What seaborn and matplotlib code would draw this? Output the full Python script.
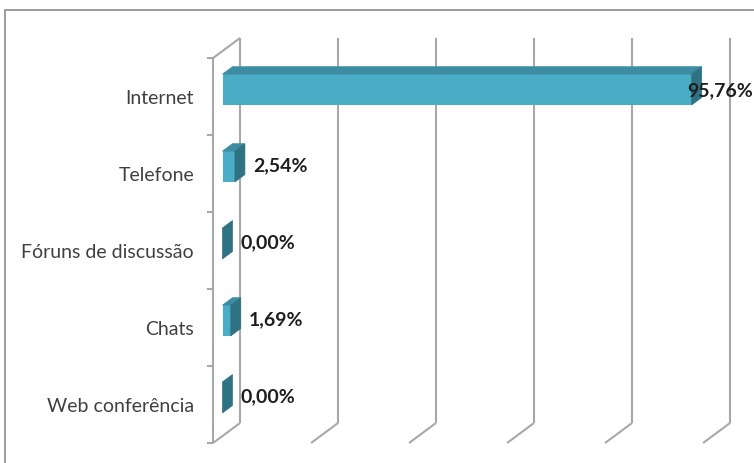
import numpy as np
import pandas as pd
import matplotlib
matplotlib.use("Agg")
import matplotlib.pyplot as plt
import seaborn as sns
from matplotlib.patches import Polygon, Rectangle

categories = ["Internet", "Telefone", "Fóruns de discussão", "Chats", "Web conferência"]
percentages = [95.76, 2.54, 0.00, 1.69, 0.00]
value_labels = ["95,76%", "2,54%", "0,00%", "1,69%", "0,00%"]
x_ticks = [0, 20, 40, 60, 80, 100]

df = pd.DataFrame({"canal": categories, "pct": percentages})

sns.set_theme(style="white")
plt.rcParams["font.family"] = ["Lato", "DejaVu Sans"]

W, H = 754, 463
fig = plt.figure(figsize=(W / 100, H / 100), dpi=100)
fig.patch.set_facecolor("white")

# Axes = plane of the bar front faces (pixel box)
AX_L, AX_R, AX_T, AX_B = 222.5, 712.5, 51, 436
ax = fig.add_axes([AX_L / W, 1 - AX_B / H, (AX_R - AX_L) / W, (AX_B - AX_T) / H])
ax.set_facecolor("none")

FRONT = "#4BACC6"
TOP = "#3D8CA2"
SIDE = "#2F7284"
GRID = "#A8A8A8"

sns.barplot(data=df, x="pct", y="canal", orient="h", width=0.4,
            color=FRONT, saturation=1, linewidth=0, ax=ax, zorder=3)
ax.set_xlim(0, 100)
ax.set_ylim(4.5, -0.5)

# Pseudo-3D geometry (data units): full wall depth and bar slab position in it
WALL_DX, WALL_DY = 5.5, 0.26
BAR_FRONT, BAR_BACK = 0.35, 0.72
fx, fy = -BAR_FRONT * WALL_DX, BAR_FRONT * WALL_DY
bx, by = (1 - BAR_FRONT) * WALL_DX, -(1 - BAR_FRONT) * WALL_DY
n = len(categories)
y_top, y_bot = -0.5, n - 0.5

line_kw = dict(color=GRID, lw=1.5, clip_on=False, zorder=1, solid_capstyle="butt")
# back wall gridlines + floor edges
for t in x_ticks:
    ax.plot([t + bx, t + bx], [y_top + by, y_bot + by], **line_kw)
    ax.plot([t + bx, t + fx], [y_bot + by, y_bot + fy], **line_kw)
# left wall: front edge, top edge, category tick marks
ax.plot([fx, fx], [y_top + fy, y_bot + fy], **line_kw)
ax.plot([fx, bx], [y_top + fy, y_top + by], **line_kw)
for k in range(n + 1):
    yy = k - 0.5 + fy
    ax.plot([fx - 1.2, fx], [yy, yy], **line_kw)

# top and side faces of each bar
ddx = (BAR_BACK - BAR_FRONT) * WALL_DX
ddy = -(BAR_BACK - BAR_FRONT) * WALL_DY
for p in list(ax.patches):
    x0, w = p.get_x(), p.get_width()
    y0, h = p.get_y(), p.get_height()
    yt, yb = min(y0, y0 + h), max(y0, y0 + h)
    x1 = x0 + w
    top = Polygon([(x0, yt), (x1, yt), (x1 + ddx, yt + ddy), (x0 + ddx, yt + ddy)],
                  closed=True, facecolor=TOP, edgecolor=TOP, lw=0.5, zorder=3, clip_on=False)
    side = Polygon([(x1, yt), (x1 + ddx, yt + ddy), (x1 + ddx, yb + ddy), (x1, yb)],
                   closed=True, facecolor=SIDE, edgecolor=SIDE, lw=0.5, zorder=3, clip_on=False)
    ax.add_patch(top)
    ax.add_patch(side)

# value labels
fig.canvas.draw()
renderer = fig.canvas.get_renderer()
for i, (v, lab) in enumerate(zip(percentages, value_labels)):
    ly = i + ddy / 2 + 0.04
    t = ax.text(v + ddx + 1.6, ly, lab, ha="left", va="center",
                fontsize=14, fontweight="bold", color="#1E1E1E",
                clip_on=False, zorder=5)
    bb = t.get_window_extent(renderer)
    if bb.x1 > W - 1:
        t.set_transform(fig.transFigure)
        disp_y = ax.transData.transform((0, ly + 0.03))[1]
        t.set_position(((W - 1) / W, disp_y / H))
        t.set_ha("right")

# category labels
ax.set_yticks(np.arange(n) + fy, labels=categories)
ax.tick_params(axis="y", length=0, pad=20.5, labelsize=14, labelcolor="#404040")
ax.set_xticks([])
ax.set_xlabel("")
ax.set_ylabel("")
for s in ax.spines.values():
    s.set_visible(False)

# chart frame
fig.add_artist(Rectangle((5 / W, -0.1), 1.2, 1 - 10 / H + 0.1, transform=fig.transFigure,
                         fill=False, edgecolor="#8C8C8C", lw=1.2))

fig.savefig("out.png", dpi=100)
